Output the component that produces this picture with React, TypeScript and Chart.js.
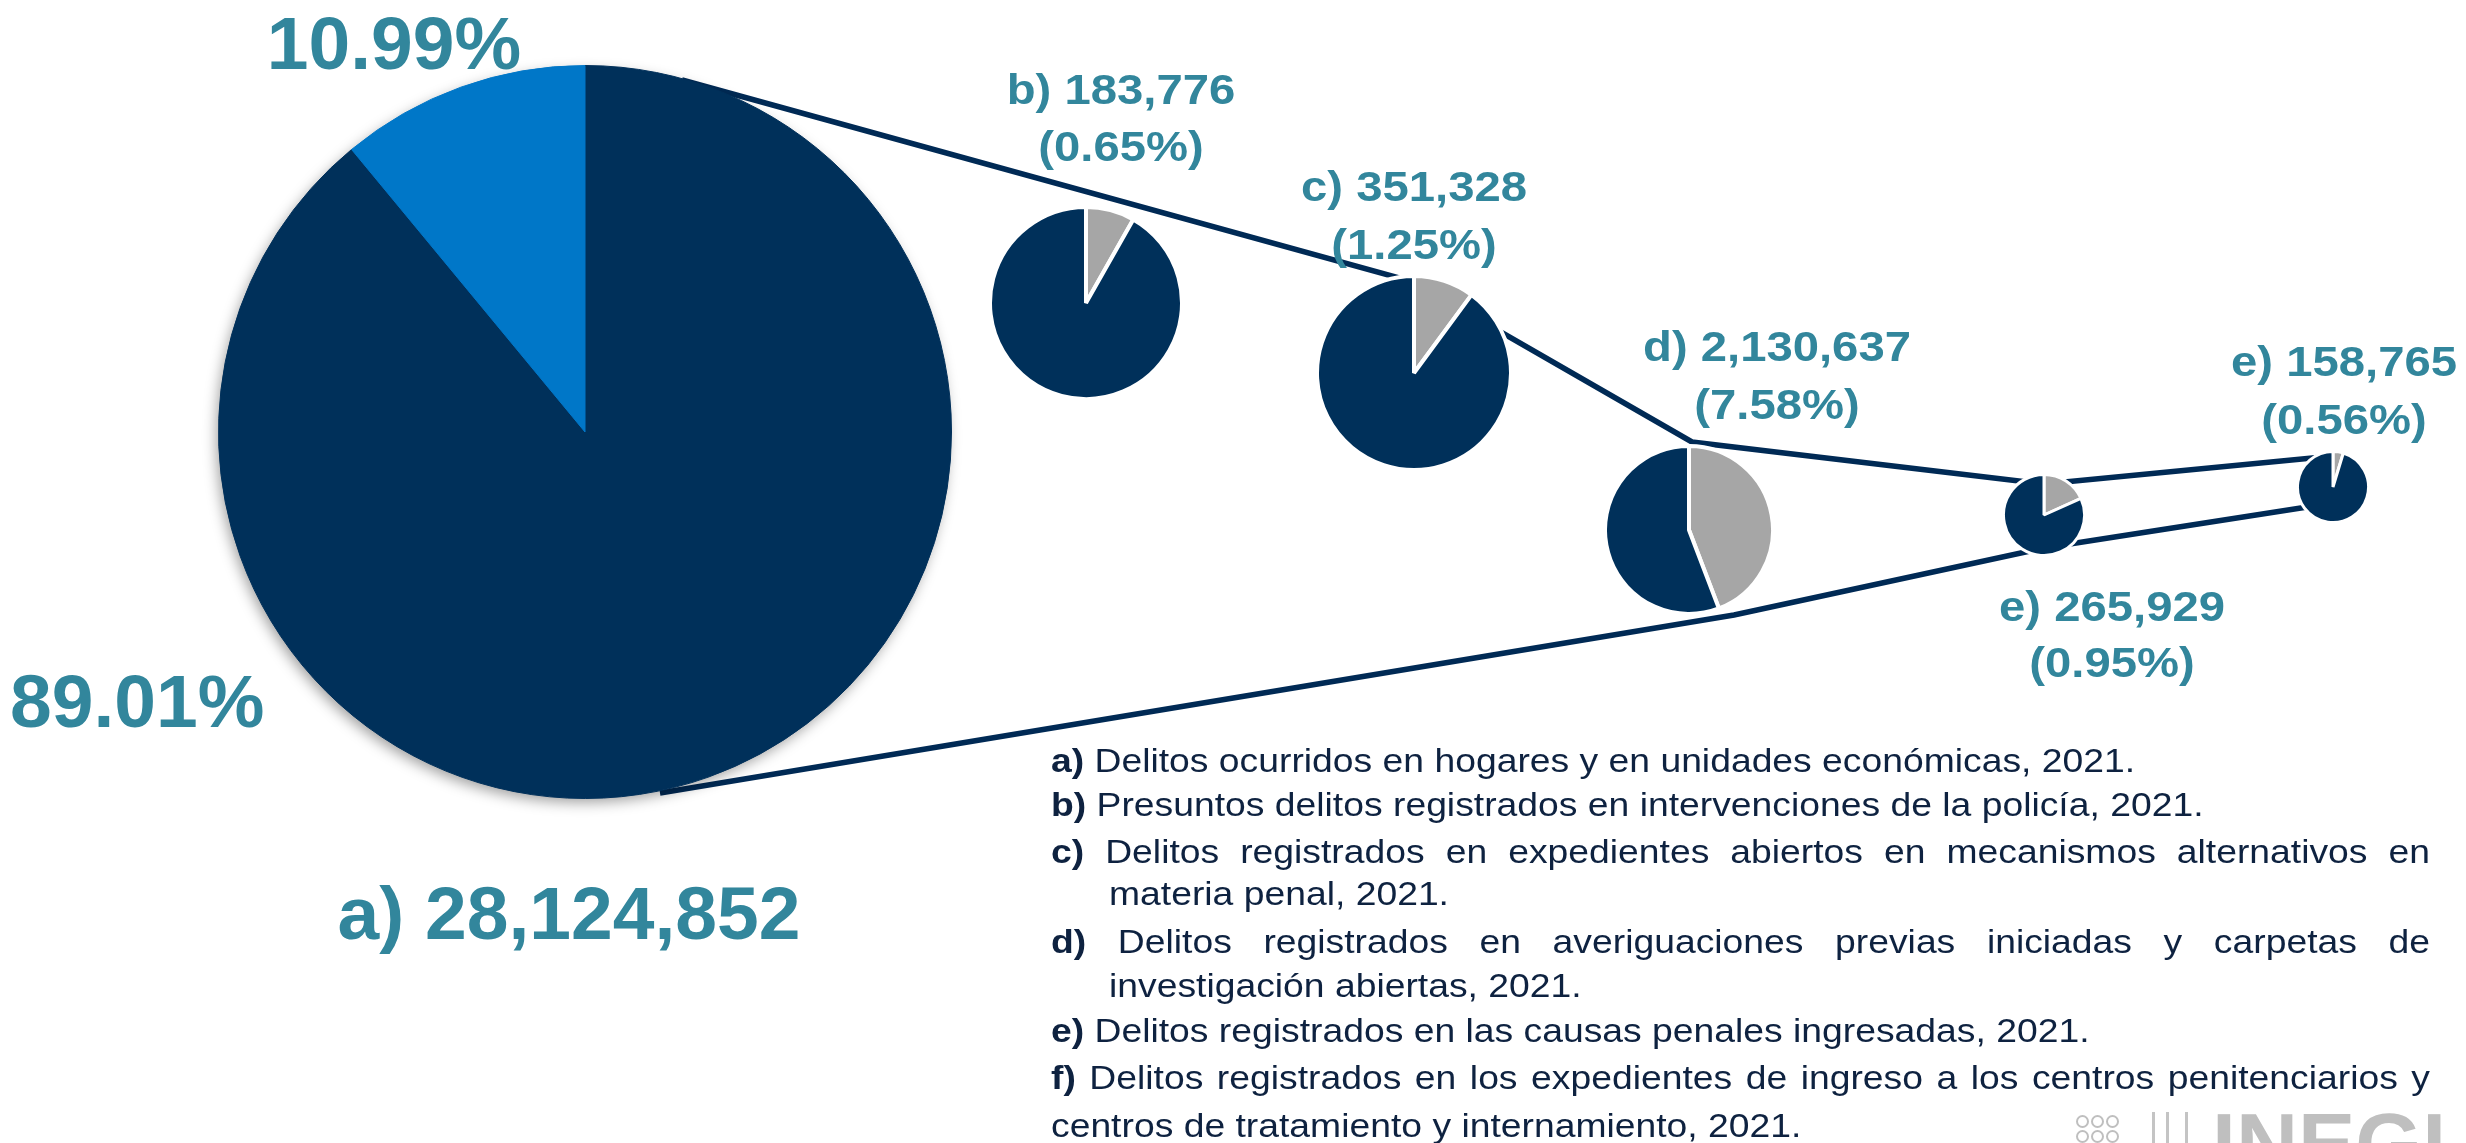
import React, { useEffect, useRef } from 'react';
import { Chart, registerables } from 'chart.js';

Chart.register(...registerables);

// ---------------- data ----------------
const BIG_CATEGORIES = ['Resto', 'Registrados (b–f)'];
const BIG_VALUES = [89.01, 10.99];
const BIG_PCT_LABELS = ['89.01%', '10.99%'];
const BIG_TOTAL_LABEL = 'a) 28,124,852';

const SUB_LETTERS = ['b)', 'c)', 'd)', 'e)', 'e)'];
const SUB_TOTALS = ['183,776', '351,328', '2,130,637', '265,929', '158,765'];
const SUB_SHARES = ['(0.65%)', '(1.25%)', '(7.58%)', '(0.95%)', '(0.56%)'];
const SUB_CATEGORIES = ['Parte', 'Resto'];
const SUB_GRAY_VALUES = [8.2, 10.1, 44.2, 18.3, 4.7];
const SUB_NAVY_VALUES = [91.8, 89.9, 55.8, 81.7, 95.3];

const LEGEND_BOLD = ['a)', 'b)', 'c)', '', 'd)', '', 'e)', 'f)', ''];
const LEGEND_TEXT = [
  'Delitos ocurridos en hogares y en unidades económicas, 2021.',
  'Presuntos delitos registrados en intervenciones de la policía, 2021.',
  'Delitos registrados en expedientes abiertos en mecanismos alternativos en',
  'materia penal, 2021.',
  'Delitos registrados en averiguaciones previas iniciadas y carpetas de',
  'investigación abiertas, 2021.',
  'Delitos registrados en las causas penales ingresadas, 2021.',
  'Delitos registrados en los expedientes de ingreso a los centros penitenciarios y',
  'centros de tratamiento y internamiento, 2021.',
];

// ---------------- layout / style ----------------
const W = 2466;
const H = 1143;
const FONT = '"Liberation Sans", Arial, Helvetica, sans-serif';
const NAVY = '#00305A';
const LINE_NAVY = '#002A55';
const LIGHT_BLUE = '#0077C8';
const GRAY = '#A6A6A6';
const TEAL = '#32869C';
const TEXT_COLOR = '#0E2240';

const BIG_LAYOUT = { cx: 585, cy: 432, r: 366 };
const SUB_LAYOUT = [
  { cx: 1086, cy: 303, r: 94, bw: 4, lx: 1121, lb: [105, 162] },
  { cx: 1414, cy: 373, r: 95, bw: 4, lx: 1414, lb: [202, 260] },
  { cx: 1689, cy: 530, r: 82, bw: 4, lx: 1777, lb: [362, 420] },
  { cx: 2044, cy: 515, r: 39, bw: 3, lx: 2112, lb: [622, 678] },
  { cx: 2333, cy: 487, r: 34, bw: 3, lx: 2344, lb: [377, 435] },
];

const UPPER_CONNECTOR = [[682, 80], [1414, 282], [1692, 442], [2044, 484], [2333, 456]];
const LOWER_CONNECTOR = [[660, 793], [1734, 615], [2044, 548], [2333, 503]];

const LEGEND_BASELINES = [772, 816, 863, 905, 953, 997, 1042, 1089, 1137];
const LEGEND_X = [1051, 1051, 1051, 1109, 1051, 1109, 1051, 1051, 1051];
const LEGEND_JUSTIFY = [false, false, true, false, true, false, false, true, false];
const LEGEND_RIGHT = 2430;
const LEGEND_SIZE = 33;
const LEGEND_SX = 1.13;

const MID_SIZE = 42;
const MID_SX = 1.125;
const BIG_SIZE = 75;

// ---------------- components ----------------
const shadowPlugin = {
  id: 'pieShadow',
  beforeDatasetsDraw(chart: any) {
    const meta = chart.getDatasetMeta(0);
    const arc = meta.data[0];
    if (!arc) return;
    const ctx = chart.ctx;
    ctx.save();
    ctx.shadowColor = 'rgba(0,0,0,0.38)';
    ctx.shadowBlur = 14;
    ctx.shadowOffsetX = -3;
    ctx.shadowOffsetY = 5;
    ctx.beginPath();
    ctx.arc(arc.x, arc.y, arc.outerRadius - 1, 0, Math.PI * 2);
    ctx.fillStyle = NAVY;
    ctx.fill();
    ctx.restore();
  },
};

function PieChart(props: {
  cx: number; cy: number; r: number; values: number[]; labels: string[];
  colors: string[]; border: number; borderColor: string | string[]; shadow?: boolean;
}) {
  const { cx, cy, r, values, labels, colors, border, borderColor, shadow } = props;
  const ref = useRef<HTMLCanvasElement>(null);
  const pad = shadow ? 26 : 2;
  const size = Math.round(2 * r + 2 * border + 2 * pad);
  useEffect(() => {
    if (!ref.current) return;
    const chart = new Chart(ref.current, {
      type: 'pie',
      data: {
        labels,
        datasets: [{
          data: values,
          backgroundColor: colors,
          borderColor: borderColor as any,
          borderWidth: border,
          hoverOffset: 0,
        }],
      },
      options: {
        responsive: false,
        animation: false,
        events: [],
        layout: { padding: pad },
        plugins: { legend: { display: false }, tooltip: { enabled: false } },
      },
      plugins: shadow ? [shadowPlugin as any] : [],
    });
    return () => chart.destroy();
  }, []);
  return (
    <canvas
      ref={ref}
      width={size}
      height={size}
      style={{ position: 'absolute', left: cx - size / 2, top: cy - size / 2, width: size, height: size }}
    />
  );
}

function ConnectorChart() {
  const ref = useRef<HTMLCanvasElement>(null);
  useEffect(() => {
    if (!ref.current) return;
    const mk = (pts: number[][]) => ({
      data: pts.map(([x, y]) => ({ x, y })),
      showLine: true,
      borderColor: LINE_NAVY,
      borderWidth: 5.5,
      pointRadius: 0,
      fill: false,
      tension: 0,
      clip: false as any,
      borderJoinStyle: 'miter' as const,
    });
    const chart = new Chart(ref.current, {
      type: 'scatter',
      data: { datasets: [mk(UPPER_CONNECTOR), mk(LOWER_CONNECTOR)] },
      options: {
        responsive: false,
        animation: false,
        events: [],
        layout: { padding: 0 },
        plugins: { legend: { display: false }, tooltip: { enabled: false } },
        scales: {
          x: { type: 'linear', min: 0, max: W, display: false },
          y: { type: 'linear', min: 0, max: H, reverse: true, display: false },
        },
      },
    });
    return () => chart.destroy();
  }, []);
  return (
    <canvas ref={ref} width={W} height={H}
      style={{ position: 'absolute', left: 0, top: 0, width: W, height: H }} />
  );
}

function Txt(props: {
  x: number; baseline: number; size: number; bold?: boolean; color: string;
  align?: 'left' | 'center' | 'justify'; sx?: number; width?: number; children: any;
}) {
  const { x, baseline, size, bold = false, color, align = 'left', sx = 1, width = 0, children } = props;
  const style: any = {
    position: 'absolute',
    top: baseline - 0.8465 * size,
    fontSize: size,
    lineHeight: `${size}px`,
    fontWeight: bold ? 700 : 400,
    color,
    whiteSpace: 'nowrap',
    fontFamily: FONT,
    transform: `scaleX(${sx})`,
  };
  if (align === 'center') {
    style.left = x - 1000;
    style.width = 2000;
    style.textAlign = 'center';
    style.transformOrigin = '50% 0';
  } else if (align === 'justify') {
    style.left = x;
    style.width = width / sx;
    style.textAlign = 'justify';
    style.textAlignLast = 'justify';
    style.transformOrigin = '0 0';
  } else {
    style.left = x;
    style.transformOrigin = '0 0';
  }
  return <div style={style}>{children}</div>;
}

function Logo() {
  const ring = (l: number, t: number) => (
    <div key={`${l}-${t}`} style={{
      position: 'absolute', left: l, top: t, width: 9, height: 9,
      border: '2px solid #BFBFBF', borderRadius: '50%',
    }} />
  );
  const bar = (l: number, w: number) => (
    <div key={`b${l}`} style={{ position: 'absolute', left: l, top: 1112, width: w, height: 40, background: '#C4C4C4' }} />
  );
  return (
    <>
      {[2076, 2091, 2106].map((l) => ring(l, 1115))}
      {[2076, 2091, 2106].map((l) => ring(l, 1130))}
      {bar(2152, 3)}
      {bar(2166, 3)}
      {bar(2185, 3)}
      <Txt x={2212} baseline={1173} size={86} bold color="#BFBFBF">INEGI</Txt>
    </>
  );
}

export default function App() {
  useEffect(() => {
    document.body.style.margin = '0';
    document.body.style.overflow = 'hidden';
  }, []);

  return (
    <div style={{
      position: 'absolute', left: 0, top: 0, width: W, height: H,
      overflow: 'hidden', background: '#ffffff', fontFamily: FONT,
    }}>
      <ConnectorChart />

      <PieChart
        cx={BIG_LAYOUT.cx} cy={BIG_LAYOUT.cy} r={BIG_LAYOUT.r}
        values={BIG_VALUES} labels={BIG_CATEGORIES}
        colors={[NAVY, LIGHT_BLUE]} border={1} borderColor={[NAVY, LIGHT_BLUE]} shadow
      />

      {SUB_LAYOUT.map((p, i) => (
        <PieChart key={i}
          cx={p.cx} cy={p.cy} r={p.r}
          values={[SUB_GRAY_VALUES[i], SUB_NAVY_VALUES[i]]} labels={SUB_CATEGORIES}
          colors={[GRAY, NAVY]} border={p.bw} borderColor="#ffffff"
        />
      ))}

      {/* big pie labels */}
      <Txt x={394} baseline={69} size={BIG_SIZE} bold color={TEAL} align="center">{BIG_PCT_LABELS[1]}</Txt>
      <Txt x={10} baseline={727} size={BIG_SIZE} bold color={TEAL}>{BIG_PCT_LABELS[0]}</Txt>
      <Txt x={569} baseline={939} size={BIG_SIZE} bold color={TEAL} align="center">{BIG_TOTAL_LABEL}</Txt>

      {/* sub pie labels */}
      {SUB_LAYOUT.map((p, i) => (
        <React.Fragment key={`l${i}`}>
          <Txt x={p.lx} baseline={p.lb[0]} size={MID_SIZE} bold color={TEAL} align="center" sx={MID_SX}>
            {`${SUB_LETTERS[i]} ${SUB_TOTALS[i]}`}
          </Txt>
          <Txt x={p.lx} baseline={p.lb[1]} size={MID_SIZE} bold color={TEAL} align="center" sx={MID_SX}>
            {SUB_SHARES[i]}
          </Txt>
        </React.Fragment>
      ))}

      {/* legend text */}
      {LEGEND_TEXT.map((t, i) => (
        <Txt key={`g${i}`}
          x={LEGEND_X[i]} baseline={LEGEND_BASELINES[i]} size={LEGEND_SIZE}
          color={TEXT_COLOR} sx={LEGEND_SX}
          align={LEGEND_JUSTIFY[i] ? 'justify' : 'left'}
          width={LEGEND_RIGHT - LEGEND_X[i]}
        >
          {LEGEND_BOLD[i] ? <b>{LEGEND_BOLD[i]}</b> : null}
          {LEGEND_BOLD[i] ? ' ' : ''}
          {t}
        </Txt>
      ))}

      <Logo />
    </div>
  );
}
